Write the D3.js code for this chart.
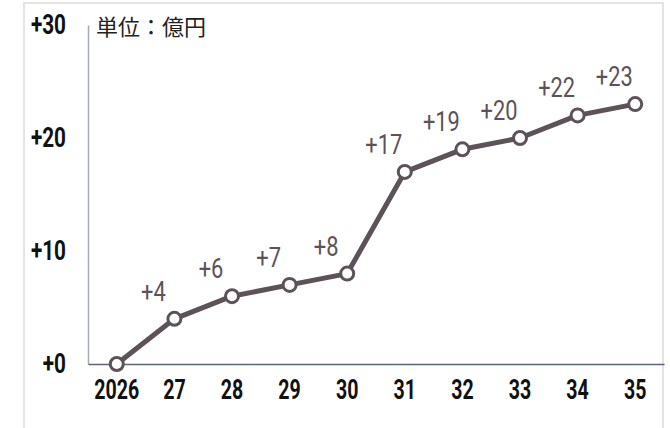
<!DOCTYPE html>
<html><head><meta charset="utf-8">
<script src="https://cdn.jsdelivr.net/npm/d3@7"></script>
<style>body{margin:0;background:#fff;}svg{display:block;}</style>
</head><body>
<script>
const years = ["2026","27","28","29","30","31","32","33","34","35"];
const values = [0,4,6,7,8,17,19,20,22,23];
const yTicks = [0,10,20,30];
const unitLabel = "単位：億円";

(function(){
const W = 670, H = 428;
const svg = d3.select("body").append("svg").attr("width", W).attr("height", H);
const fnt = "Roboto,'Noto Sans',sans-serif";
const sxT = 0.7, sxY = 0.74, sxL = 0.78;

// outer frame
svg.append("rect").attr("x",24).attr("y",3).attr("width",639).attr("height",440)
  .attr("fill","none").attr("stroke","#e4e4e4").attr("stroke-width",2);

const mLeft = 88, mRight = 664, mTop = 25, mBottom = 364;
const x = d3.scaleBand().domain(years).range([mLeft, mRight]);
const y = d3.scaleLinear().domain([0,30]).range([mBottom, mTop]);
const cx = d => x(d) + x.bandwidth()/2;

// y axis
const ya = svg.append("g").attr("transform",`translate(${mLeft},0)`)
  .call(d3.axisLeft(y).tickValues(yTicks).tickSize(0).tickPadding(22).tickFormat(d=>"+"+d));
ya.select(".domain").attr("stroke","#a3aab8").attr("stroke-width",1.5);
ya.selectAll("text").attr("font-family",fnt).attr("font-size",28).attr("font-weight",700).attr("fill","#111")
  .attr("x",-22/sxY).attr("transform",`scale(${sxY},1)`);

// x axis
const xa = svg.append("g").attr("transform",`translate(0,${mBottom})`)
  .call(d3.axisBottom(x).tickSize(0).tickPadding(15));
xa.select(".domain").attr("stroke","#5a6680").attr("stroke-width",1.5);
xa.selectAll("text").attr("font-family",fnt).attr("font-size",28).attr("font-weight",700).attr("fill","#111")
  .attr("transform",`scale(${sxT},1)`);

// unit
svg.append("text").attr("x",96).attr("y",35).text(unitLabel)
  .attr("font-family","'Noto Sans CJK JP',sans-serif").attr("font-size",22).attr("fill","#222");

const col = "#5c5257";
const line = d3.line().x((d,i)=>cx(years[i])).y(d=>y(d));
svg.append("path").datum(values).attr("d",line).attr("fill","none")
  .attr("stroke",col).attr("stroke-width",5).attr("stroke-linejoin","round");

svg.selectAll("circle.pt").data(values).join("circle").attr("class","pt")
  .attr("cx",(d,i)=>cx(years[i])).attr("cy",d=>y(d)).attr("r",6.5)
  .attr("fill","#fff").attr("stroke",col).attr("stroke-width",3);

svg.selectAll("text.lbl").data(values.map((v,i)=>({v,i})).filter(d=>d.v>0)).join("text").attr("class","lbl")
  .attr("transform",d=>`translate(${cx(years[d.i])-21},${y(d.v)-18}) scale(${sxL},1)`)
  .attr("text-anchor","middle")
  .attr("font-family",fnt).attr("font-size",28).attr("fill",col)
  .text(d=>"+"+d.v);
})();
</script>
</body></html>
